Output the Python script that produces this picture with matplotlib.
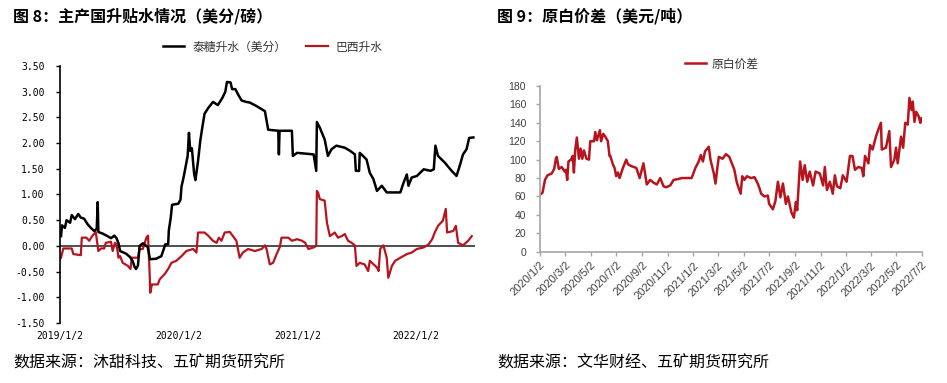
import pandas as pd
import numpy as np
import matplotlib
matplotlib.use('Agg')
import matplotlib.pyplot as plt

plt.rcParams['font.family'] = ['Noto Sans CJK SC', 'DejaVu Sans']

# 图8：泰糖升水（美分）
thai_dates = ['2019-01-05', '2019-01-08', '2019-01-17', '2019-01-22', '2019-02-02', '2019-02-07',
              '2019-02-17', '2019-02-27', '2019-03-07', '2019-03-17', '2019-03-28', '2019-04-07',
              '2019-04-17', '2019-04-25', '2019-04-28', '2019-04-30', '2019-05-13', '2019-05-28',
              '2019-06-08', '2019-06-18', '2019-06-25', '2019-07-01', '2019-07-06', '2019-07-24',
              '2019-08-06', '2019-08-14', '2019-08-19', '2019-08-24', '2019-08-30', '2019-09-04',
              '2019-09-14', '2019-09-29', '2019-10-06', '2019-10-25', '2019-11-10', '2019-11-18',
              '2019-11-22', '2019-12-01', '2019-12-03', '2019-12-09', '2019-12-13', '2020-01-01',
              '2020-01-08', '2020-01-11', '2020-01-18', '2020-01-24', '2020-01-30', '2020-02-03',
              '2020-02-07', '2020-02-12', '2020-02-19', '2020-02-23', '2020-03-02', '2020-03-09',
              '2020-03-15', '2020-03-22', '2020-04-02', '2020-04-17', '2020-05-02', '2020-05-16',
              '2020-05-25', '2020-05-30', '2020-06-10', '2020-06-15', '2020-06-25', '2020-07-03',
              '2020-07-14', '2020-07-29', '2020-08-08', '2020-08-29', '2020-09-14', '2020-09-24',
              '2020-10-04', '2020-11-04', '2020-11-06', '2020-11-08', '2020-12-16', '2020-12-19',
              '2021-01-01', '2021-02-21', '2021-03-01', '2021-03-03', '2021-03-12', '2021-03-27',
              '2021-04-06', '2021-04-17', '2021-05-02', '2021-05-28', '2021-06-13', '2021-06-28',
              '2021-07-01', '2021-07-11', '2021-07-13', '2021-07-23', '2021-08-03', '2021-08-13',
              '2021-08-24', '2021-09-04', '2021-09-19', '2021-10-04', '2021-11-15', '2021-11-25',
              '2021-12-05', '2021-12-10', '2021-12-20', '2022-01-05', '2022-01-26', '2022-02-16',
              '2022-02-26', '2022-03-03', '2022-03-11', '2022-04-01', '2022-04-22', '2022-05-07',
              '2022-05-17', '2022-05-27', '2022-06-07', '2022-06-15', '2022-06-28']
thai_vals = [0.19, 0.40, 0.35, 0.50, 0.45, 0.60,
             0.52, 0.62, 0.55, 0.53, 0.42, 0.35,
             0.29, 0.33, 0.85, 0.27, 0.24, 0.19,
             0.15, 0.20, 0.15, 0.05, -0.10, -0.15,
             -0.22, -0.30, -0.40, -0.45, -0.38, 0.00,
             0.05, -0.02, -0.26, -0.25, -0.20, -0.05,
             0.03, 0.03, 0.30, 0.55, 0.80, 0.82,
             0.90, 1.15, 1.35, 1.55, 1.75, 2.20,
             1.85, 1.90, 1.40, 1.28, 1.65, 2.05,
             2.30, 2.57, 2.68, 2.80, 2.74, 2.88,
             3.00, 3.19, 3.18, 3.05, 3.05, 2.95,
             2.83, 2.80, 2.79, 2.72, 2.66, 2.62,
             2.26, 2.24, 1.78, 2.24, 2.24, 1.75,
             1.81, 1.78, 1.46, 2.41, 2.30, 2.07,
             1.75, 1.88, 1.95, 1.91, 1.85, 1.78,
             1.46, 1.46, 1.81, 1.75, 1.68, 1.42,
             1.30, 1.07, 1.17, 1.04, 1.04, 1.23,
             1.39, 1.17, 1.33, 1.36, 1.49, 1.46,
             1.49, 1.95, 1.75, 1.62, 1.46, 1.36,
             1.56, 1.78, 1.88, 2.10, 2.11]

# 图8：巴西升水
brazil_dates = ['2019-01-05', '2019-01-12', '2019-02-07', '2019-02-12', '2019-03-07', '2019-03-10',
                '2019-03-24', '2019-04-02', '2019-04-12', '2019-04-22', '2019-04-30', '2019-05-08',
                '2019-05-18', '2019-05-23', '2019-06-08', '2019-06-13', '2019-06-20', '2019-06-25',
                '2019-07-01', '2019-07-06', '2019-07-14', '2019-07-30', '2019-08-07', '2019-08-11',
                '2019-08-30', '2019-09-04', '2019-09-14', '2019-09-25', '2019-09-30', '2019-10-04',
                '2019-10-07', '2019-10-12', '2019-10-30', '2019-11-05', '2019-11-20', '2019-12-01',
                '2019-12-11', '2019-12-26', '2020-01-11', '2020-01-26', '2020-02-16', '2020-02-26',
                '2020-03-02', '2020-03-22', '2020-04-02', '2020-04-17', '2020-04-28', '2020-05-05',
                '2020-05-13', '2020-05-23', '2020-06-08', '2020-06-28', '2020-07-08', '2020-07-18',
                '2020-08-03', '2020-08-24', '2020-09-14', '2020-09-24', '2020-09-29', '2020-10-09',
                '2020-10-19', '2020-10-30', '2020-11-09', '2020-11-14', '2020-12-05', '2020-12-16',
                '2021-01-01', '2021-01-16', '2021-01-26', '2021-02-05', '2021-02-21', '2021-03-01',
                '2021-03-03', '2021-03-07', '2021-03-12', '2021-03-27', '2021-04-03', '2021-04-12',
                '2021-04-27', '2021-05-07', '2021-05-18', '2021-05-28', '2021-06-07', '2021-06-18',
                '2021-06-28', '2021-07-03', '2021-07-13', '2021-07-28', '2021-08-08', '2021-08-13',
                '2021-09-04', '2021-09-09', '2021-09-14', '2021-09-24', '2021-10-04', '2021-10-09',
                '2021-10-20', '2021-10-30', '2021-11-15', '2021-12-05', '2021-12-20', '2022-01-05',
                '2022-01-26', '2022-02-10', '2022-02-21', '2022-03-01', '2022-03-11', '2022-03-26',
                '2022-04-04', '2022-04-08', '2022-04-27', '2022-05-05', '2022-05-12', '2022-05-27',
                '2022-06-12', '2022-06-23']
brazil_vals = [-0.23, -0.05, -0.05, -0.16, -0.18, 0.16,
               0.16, 0.10, 0.20, 0.27, -0.10, -0.05,
               -0.05, 0.06, 0.08, -0.10, 0.06, 0.03,
               -0.23, -0.20, -0.33, -0.39, -0.45, -0.23,
               -0.23, -0.06, -0.06, 0.16, 0.20, -0.39,
               -0.91, -0.75, -0.75, -0.65, -0.55, -0.45,
               -0.33, -0.29, -0.20, -0.10, -0.06, -0.13,
               0.26, 0.26, 0.20, 0.10, 0.06, 0.16,
               0.10, 0.26, 0.27, 0.10, -0.23, -0.13,
               -0.06, -0.10, -0.06, 0.01, -0.06, -0.36,
               -0.33, -0.16, -0.02, 0.16, 0.16, 0.10,
               0.13, 0.10, 0.06, -0.06, -0.03, 0.00,
               1.07, 1.03, 0.91, 0.88, 0.45, 0.19,
               0.26, 0.16, 0.19, 0.23, 0.10, 0.06,
               0.01, -0.39, -0.33, -0.36, -0.49, -0.29,
               -0.42, -0.49, -0.06, 0.01, -0.23, -0.62,
               -0.39, -0.29, -0.23, -0.16, -0.13, -0.06,
               -0.03, 0.03, 0.13, 0.26, 0.39, 0.49,
               0.72, 0.26, 0.29, 0.39, 0.06, 0.01,
               0.10, 0.19]

# 图9：原白价差（美元/吨）
spread_dates = ['2020-01-02', '2020-01-08', '2020-01-14', '2020-01-20', '2020-01-30', '2020-02-05',
                '2020-02-09', '2020-02-11', '2020-02-16', '2020-02-23', '2020-03-01', '2020-03-04',
                '2020-03-07', '2020-03-10', '2020-03-16', '2020-03-20', '2020-03-23', '2020-03-26',
                '2020-03-30', '2020-04-04', '2020-04-08', '2020-04-12', '2020-04-16', '2020-04-22',
                '2020-04-28', '2020-05-01', '2020-05-10', '2020-05-13', '2020-05-17', '2020-05-24',
                '2020-05-27', '2020-06-01', '2020-06-06', '2020-06-12', '2020-06-16', '2020-06-18',
                '2020-06-24', '2020-06-28', '2020-07-02', '2020-07-06', '2020-07-10', '2020-07-18',
                '2020-07-26', '2020-07-30', '2020-08-07', '2020-08-19', '2020-08-27', '2020-09-05',
                '2020-09-13', '2020-09-21', '2020-09-29', '2020-10-07', '2020-10-15', '2020-10-23',
                '2020-10-29', '2020-11-08', '2020-11-16', '2020-11-28', '2020-12-05', '2020-12-17',
                '2020-12-29', '2021-01-07', '2021-01-15', '2021-01-20', '2021-01-25', '2021-01-30',
                '2021-02-08', '2021-02-12', '2021-02-20', '2021-02-24', '2021-03-01', '2021-03-04',
                '2021-03-13', '2021-03-21', '2021-03-29', '2021-04-05', '2021-04-10', '2021-04-16',
                '2021-04-25', '2021-04-29', '2021-05-04', '2021-05-10', '2021-05-20', '2021-05-28',
                '2021-06-05', '2021-06-09', '2021-06-13', '2021-06-21', '2021-06-29', '2021-07-02',
                '2021-07-11', '2021-07-17', '2021-07-23', '2021-07-29', '2021-08-04', '2021-08-11',
                '2021-08-16', '2021-08-24', '2021-08-30', '2021-09-04', '2021-09-07', '2021-09-14',
                '2021-09-20', '2021-09-25', '2021-10-01', '2021-10-07', '2021-10-15', '2021-10-21',
                '2021-10-31', '2021-11-08', '2021-11-12', '2021-11-17', '2021-11-24', '2021-12-01',
                '2021-12-06', '2021-12-11', '2021-12-19', '2021-12-25', '2022-01-03', '2022-01-11',
                '2022-01-17', '2022-01-23', '2022-01-31', '2022-02-08', '2022-02-12', '2022-02-16',
                '2022-02-24', '2022-02-28', '2022-03-06', '2022-03-14', '2022-03-20', '2022-03-26',
                '2022-03-28', '2022-04-07', '2022-04-15', '2022-04-19', '2022-04-27', '2022-05-01',
                '2022-05-05', '2022-05-13', '2022-05-18', '2022-05-23', '2022-05-29', '2022-06-02',
                '2022-06-07', '2022-06-10', '2022-06-14', '2022-06-18', '2022-06-24', '2022-06-28',
                '2022-07-01']
spread_vals = [62, 64, 78, 83, 85, 90,
               101, 103, 90, 92, 87, 89,
               78, 98, 100, 104, 86, 110,
               124, 101, 112, 101, 110, 101,
               100, 120, 120, 130, 121, 132,
               120, 128, 125, 120, 104, 104,
               95, 91, 82, 86, 80, 91,
               100, 95, 93, 91, 80, 96,
               73, 78, 75, 73, 80, 71,
               70, 72, 78, 79, 80, 80,
               80, 91, 98, 105, 98, 109,
               114, 100, 85, 74, 93, 103,
               101, 106, 103, 95, 89, 75,
               63, 82, 78, 82, 80, 81,
               74, 69, 63, 60, 61, 52,
               46, 55, 76, 59, 74, 52,
               60, 43, 37, 54, 45, 98,
               78, 94, 76, 87, 72, 87,
               85, 72, 92, 67, 76, 63,
               83, 71, 69, 83, 76, 104,
               104, 89, 92, 91, 82, 104,
               96, 116, 111, 125, 133, 140,
               111, 113, 131, 92, 100, 113,
               96, 125, 113, 140, 138, 167,
               154, 163, 141, 152, 147, 140,
               145]

left_ticks = ['2019-01-02', '2020-01-02', '2021-01-02', '2022-01-02']
left_ticklabels = ['2019/1/2', '2020/1/2', '2021/1/2', '2022/1/2']
right_ticks = ['2020-01-02', '2020-03-02', '2020-05-02', '2020-07-02', '2020-09-02', '2020-11-02',
               '2021-01-02', '2021-03-02', '2021-05-02', '2021-07-02', '2021-09-02', '2021-11-02',
               '2022-01-02', '2022-03-02', '2022-05-02', '2022-07-02']
right_ticklabels = ['2020/1/2', '2020/3/2', '2020/5/2', '2020/7/2', '2020/9/2', '2020/11/2',
                    '2021/1/2', '2021/3/2', '2021/5/2', '2021/7/2', '2021/9/2', '2021/11/2',
                    '2022/1/2', '2022/3/2', '2022/5/2', '2022/7/2']

red = '#B8141D'
grey = '#A6A6A6'

fig = plt.figure(figsize=(9.47, 3.83), dpi=100)

# ---- 图8 ----
ax1 = fig.add_axes([0.0634, 0.1567, 0.4382, 0.671])
ax1.plot(pd.to_datetime(thai_dates), thai_vals, color='black', lw=1.8, label='泰糖升水（美分）', zorder=3)
ax1.plot(pd.to_datetime(brazil_dates), brazil_vals, color=red, lw=1.6, label='巴西升水', zorder=2)
ax1.axhline(0, color='#404040', lw=1.3, zorder=1)
ax1.set_ylim(-1.5, 3.5)
ax1.set_xlim(pd.Timestamp('2019-01-02'), pd.Timestamp('2022-07-03'))
yt = np.arange(-1.5, 3.51, 0.5)
ax1.set_yticks(yt)
ax1.set_yticklabels([f'{v:.2f}' for v in yt], family='DejaVu Sans Mono', fontsize=7)
ax1.set_xticks(pd.to_datetime(left_ticks))
ax1.set_xticklabels(left_ticklabels, family='DejaVu Sans Mono', fontsize=7)
ax1.tick_params(axis='x', length=0, pad=6)
ax1.tick_params(axis='y', length=3, width=1, pad=8, color='black')
for s in ['top', 'right', 'bottom']:
    ax1.spines[s].set_visible(False)
ax1.spines['left'].set_linewidth(1.2)
ax1.legend(loc='center', bbox_to_anchor=(0.288, 0.877), bbox_transform=fig.transFigure,
           ncol=2, frameon=False, fontsize=8.5, handlelength=1.8, handletextpad=0.7,
           columnspacing=1.7, labelcolor='#333333')

# ---- 图9 ----
ax2 = fig.add_axes([0.5702, 0.3428, 0.4034, 0.4327])
ax2.plot(pd.to_datetime(spread_dates), spread_vals, color=red, lw=1.8, label='原白价差')
ax2.set_ylim(0, 180)
ax2.set_yticks(range(0, 181, 20))
ax2.set_xlim(pd.Timestamp('2020-01-02'), pd.Timestamp('2022-07-02'))
ax2.set_xticks(pd.to_datetime(right_ticks))
ax2.set_xticklabels(right_ticklabels, rotation=45, ha='right', rotation_mode='anchor',
                    family='Liberation Sans', fontsize=8, color='#404040')
for lab in ax2.get_yticklabels():
    lab.set_family('Liberation Sans')
    lab.set_fontsize(7.5)
    lab.set_color('#404040')
ax2.tick_params(axis='both', length=3, width=1, color=grey)
ax2.tick_params(axis='y', pad=7)
ax2.tick_params(axis='x', pad=3)
for s in ['top', 'right']:
    ax2.spines[s].set_visible(False)
for s in ['left', 'bottom']:
    ax2.spines[s].set_color(grey)
    ax2.spines[s].set_linewidth(1.2)
ax2.legend(loc='center', bbox_to_anchor=(0.762, 0.833), bbox_transform=fig.transFigure,
           frameon=False, fontsize=8.5, handlelength=1.8, handletextpad=0.4, labelcolor='#333333')

# 标题与来源
fig.text(13 / 947, 1 - 16 / 383, '图 8：主产国升贴水情况（美分/磅）', fontsize=11.5, fontweight='bold', va='center')
fig.text(497 / 947, 1 - 16 / 383, '图 9：原白价差（美元/吨）', fontsize=11.5, fontweight='bold', va='center')
fig.text(13 / 947, 1 - 363 / 383, '数据来源：沐甜科技、五矿期货研究所', fontsize=11.5, va='center')
fig.text(497 / 947, 1 - 363 / 383, '数据来源：文华财经、五矿期货研究所', fontsize=11.5, va='center')

fig.savefig('out.png', dpi=100)
